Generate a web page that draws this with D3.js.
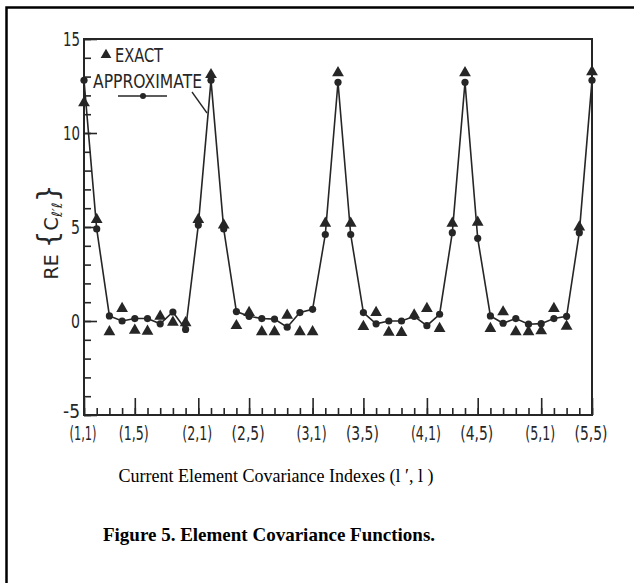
<!DOCTYPE html>
<html>
<head>
<meta charset="utf-8">
<script src="https://cdn.jsdelivr.net/npm/d3@7"></script>
<style>
  html, body { margin: 0; padding: 0; background: #fff; }
  svg { display: block; }
</style>
</head>
<body>
<svg id="chart" width="634" height="583"></svg>
<script>
// ---------- data ----------
const steps = d3.range(0, 41); // positions along the index axis
const tickSteps = [0, 4, 9, 13, 18, 22, 27, 31, 36, 40];
const tickLabels = ["(1,1)", "(1,5)", "(2,1)", "(2,5)", "(3,1)", "(3,5)", "(4,1)", "(4,5)", "(5,1)", "(5,5)"];
const yMajor = [-5, 0, 5, 10, 15];
const yMinor = d3.range(-5, 16);

const approximate = [
  12.8, 4.9, 0.27, 0.0, 0.13, 0.13, -0.15, 0.48, -0.45, 5.1,
  12.8, 4.9, 0.5, 0.25, 0.13, 0.1, -0.33, 0.45, 0.62, 4.6,
  12.7, 4.6, 0.45, -0.15, 0.0, 0.0, 0.25, -0.25, 0.36, 4.7,
  12.7, 4.4, 0.27, -0.12, 0.13, -0.17, -0.14, 0.13, 0.25, 4.7,
  12.8
];
const exact = [
  11.6, 5.4, -0.58, 0.66, -0.5, -0.55, 0.25, -0.07, -0.1, 5.4,
  13.1, 5.1, -0.25, 0.45, -0.58, -0.58, 0.3, -0.58, -0.58, 5.2,
  13.2, 5.2, -0.3, 0.45, -0.6, -0.62, 0.32, 0.66, -0.4, 5.2,
  13.2, 5.25, -0.4, 0.48, -0.58, -0.58, -0.53, 0.66, -0.28, 5.0,
  13.25
];

// ---------- layout ----------
const svg = d3.select("#chart");
const ink = "#262626";
const sans = "'DejaVu Sans', sans-serif";
const serif = "'Liberation Serif', 'Times New Roman', serif";

// outer frame (extends beyond right/bottom edges)
svg.append("path")
  .attr("d", "M6.5,583 L6.5,7.5 L634,7.5")
  .attr("fill", "none").attr("stroke", "#000").attr("stroke-width", 2.5);

const x = d3.scaleLinear().domain([0, 40]).range([84, 592]);
const y = d3.scaleLinear().domain([-5, 15]).range([415, 39]);

const g = svg.append("g");

// frame of plot
g.append("rect")
  .attr("x", x(0)).attr("y", y(15))
  .attr("width", x(40) - x(0)).attr("height", y(-5) - y(15))
  .attr("fill", "none").attr("stroke", ink).attr("stroke-width", 2);

// y minor ticks
g.append("g").attr("transform", `translate(${x(0)},0)`)
  .call(d3.axisLeft(y).tickValues(yMinor).tickSize(-7).tickFormat(""))
  .call(a => a.select(".domain").remove())
  .call(a => a.selectAll("line").attr("stroke", ink).attr("stroke-width", 1.6));

// y major ticks + labels
const yFmt = d => (d < 0 ? "-" + Math.abs(d) : String(d));
g.append("g").attr("transform", `translate(${x(0)},0)`)
  .call(d3.axisLeft(y).tickValues(yMajor).tickSize(-13).tickPadding(4).tickFormat(yFmt))
  .call(a => a.select(".domain").remove())
  .call(a => a.selectAll("line").attr("stroke", ink).attr("stroke-width", 1.6))
  .call(a => a.selectAll("text").attr("fill", ink)
    .attr("dy", d => d === -5 ? "0.12em" : "0.3em")
    .attr("textLength", d => yFmt(d).length > 1 ? 17 : 9)
    .attr("lengthAdjust", "spacingAndGlyphs")
    .style("font-family", sans).style("font-size", "20px"));

// x minor ticks
g.append("g").attr("transform", `translate(0,${y(-5)})`)
  .call(d3.axisBottom(x).tickValues(steps).tickSize(-7).tickFormat(""))
  .call(a => a.select(".domain").remove())
  .call(a => a.selectAll("line").attr("stroke", ink).attr("stroke-width", 1.6));

// x major ticks + labels
g.append("g").attr("transform", `translate(0,${y(-5)})`)
  .call(d3.axisBottom(x).tickValues(tickSteps).tickSize(-17).tickPadding(12)
    .tickFormat((d, i) => tickLabels[i]))
  .call(a => a.select(".domain").remove())
  .call(a => a.selectAll("line").attr("stroke", ink).attr("stroke-width", 1.6))
  .call(a => a.selectAll("text").attr("fill", ink).attr("dx", -1.5)
    .attr("textLength", (d, i) => 33 - 3 * (tickLabels[i].split("1").length - 1))
    .attr("lengthAdjust", "spacingAndGlyphs")
    .style("font-family", sans).style("font-size", "19px"));

// approximate line
const line = d3.line().x((d, i) => x(steps[i])).y(d => y(d));
g.append("path").datum(approximate)
  .attr("d", line).attr("fill", "none")
  .attr("stroke", ink).attr("stroke-width", 1.6);

// approximate dots
g.append("g").selectAll("circle").data(approximate).join("circle")
  .attr("cx", (d, i) => x(steps[i])).attr("cy", d => y(d))
  .attr("r", 3.6).attr("fill", ink);

// exact triangles
const tri = d3.symbol().type(d3.symbolTriangle).size(60);
g.append("g").selectAll("path").data(exact).join("path")
  .attr("d", tri)
  .attr("transform", (d, i) => `translate(${x(steps[i])},${y(d)})`)
  .attr("fill", ink);

// legend
svg.append("path").attr("d", d3.symbol().type(d3.symbolTriangle).size(50))
  .attr("transform", "translate(106,55)").attr("fill", ink);
svg.append("text").attr("x", 115).attr("y", 62)
  .text("EXACT").attr("fill", ink)
  .attr("textLength", 48).attr("lengthAdjust", "spacingAndGlyphs")
  .style("font-family", sans).style("font-size", "19px");
svg.append("text").attr("x", 93).attr("y", 88)
  .text("APPROXIMATE").attr("fill", ink)
  .attr("textLength", 109).attr("lengthAdjust", "spacingAndGlyphs")
  .style("font-family", sans).style("font-size", "19px");
svg.append("line").attr("x1", 118).attr("x2", 167).attr("y1", 96).attr("y2", 96)
  .attr("stroke", ink).attr("stroke-width", 1.6);
svg.append("circle").attr("cx", 143).attr("cy", 96).attr("r", 3).attr("fill", ink);
// leader line from label to the curve
svg.append("line").attr("x1", 192).attr("y1", 92).attr("x2", 207).attr("y2", 113)
  .attr("stroke", ink).attr("stroke-width", 1.3);

// y axis title
const yt = svg.append("text")
  .attr("transform", "translate(58,232) rotate(-90)")
  .attr("text-anchor", "middle").attr("fill", ink)
  .style("font-family", sans).style("font-size", "19px");
yt.append("tspan").text("RE ");
yt.append("tspan").text("{").style("font-size", "28px");
yt.append("tspan").text("C");
yt.append("tspan").text("ℓ′ℓ").attr("dy", 4).style("font-size", "14px").style("font-style", "italic");
yt.append("tspan").text("}").attr("dy", -4).style("font-size", "28px");

// x axis caption
svg.append("text").attr("x", 276).attr("y", 482)
  .attr("text-anchor", "middle").attr("fill", "#000")
  .style("font-family", serif).style("font-size", "18px")
  .text("Current Element Covariance Indexes (l ′, l )");

// figure title
svg.append("text").attr("x", 269).attr("y", 541)
  .attr("text-anchor", "middle").attr("fill", "#000")
  .style("font-family", serif).style("font-size", "19px").style("font-weight", "bold")
  .text("Figure 5. Element Covariance Functions.");
</script>
</body>
</html>
